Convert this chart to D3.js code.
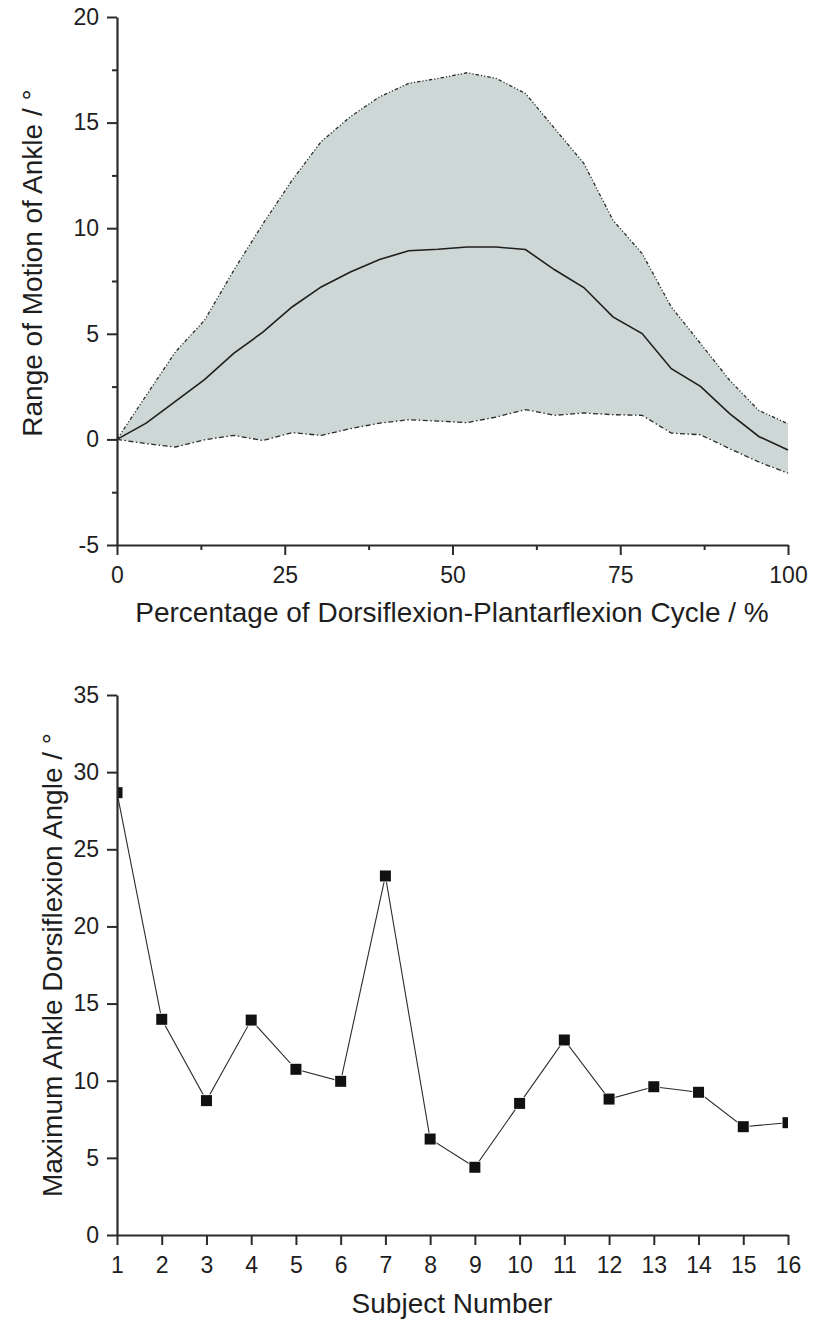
<!DOCTYPE html>
<html>
<head>
<meta charset="utf-8">
<script src="https://cdn.jsdelivr.net/npm/d3@7"></script>
<style>
  html, body { margin: 0; padding: 0; background: #fff; }
  svg { display: block; font-family: "Liberation Sans", Arial, sans-serif; }
</style>
</head>
<body>
<svg id="chart" width="820" height="1324"></svg>
<script>
// ---- Top chart data ----
const cyclePct = [0, 4.35, 8.7, 13.04, 17.39, 21.74, 26.09, 30.43, 34.78, 39.13, 43.48, 47.83,
                  52.17, 56.52, 60.87, 65.22, 69.57, 73.91, 78.26, 82.61, 86.96, 91.3, 95.65, 100];
const meanROM  = [0, 0.77, 1.8, 2.83, 4.07, 5.08, 6.27, 7.22, 7.93, 8.52, 8.93, 9.0,
                  9.11, 9.11, 8.99, 8.03, 7.19, 5.8, 5.01, 3.35, 2.51, 1.22, 0.14, -0.5];
const upperROM = [0, 2.08, 4.14, 5.64, 8.0, 10.2, 12.27, 14.1, 15.28, 16.22, 16.86, 17.09,
                  17.36, 17.09, 16.38, 14.72, 13.07, 10.38, 8.8, 6.27, 4.54, 2.8, 1.37, 0.74];
const lowerROM = [0, -0.2, -0.36, -0.02, 0.19, -0.05, 0.32, 0.19, 0.51, 0.77, 0.93, 0.87,
                  0.79, 1.06, 1.41, 1.14, 1.25, 1.17, 1.14, 0.3, 0.22, -0.44, -1.07, -1.6];
const topXTicks = [0, 25, 50, 75, 100];
const topYTicks = [-5, 0, 5, 10, 15, 20];
const topXMinor = [12.5, 37.5, 62.5, 87.5];
const topYMinor = [-2.5, 2.5, 7.5, 12.5, 17.5];
const topXTitle = "Percentage of Dorsiflexion-Plantarflexion Cycle / %";
const topYTitle = "Range of Motion of Ankle / °";

// ---- Bottom chart data ----
const subjects = [1, 2, 3, 4, 5, 6, 7, 8, 9, 10, 11, 12, 13, 14, 15, 16];
const maxDorsi = [28.67, 13.98, 8.71, 13.93, 10.74, 9.96, 23.27, 6.22, 4.39, 8.53, 12.64, 8.81, 9.61, 9.25, 7.02, 7.28];
const botYTicks = [0, 5, 10, 15, 20, 25, 30, 35];
const botXTitle = "Subject Number";
const botYTitle = "Maximum Ankle Dorsiflexion Angle / °";

const svg = d3.select("#chart");
const ink = "#1e1e1e";
const fmt = d => String(d);

function styleAxis(g) {
  g.select(".domain").attr("stroke", "#2a2a2a").attr("stroke-width", 2.2);
  g.selectAll(".tick line").attr("stroke", "#2a2a2a").attr("stroke-width", 2);
  g.selectAll(".tick text").attr("fill", ink).style("font-size", "23px")
    .style("font-family", '"Liberation Sans", Arial, sans-serif');
}

// ================= TOP CHART =================
const x1 = d3.scaleLinear().domain([0, 100]).range([117, 788]);
const y1 = d3.scaleLinear().domain([-5, 20]).range([545, 17]);
const topData = cyclePct.map((p, i) => ({p, m: meanROM[i], u: upperROM[i], l: lowerROM[i]}));

svg.append("path").datum(topData)
  .attr("fill", "#cdd8d6")
  .attr("d", d3.area().x(d => x1(d.p)).y0(d => y1(d.l)).y1(d => y1(d.u)));

svg.append("path").datum(topData)
  .attr("fill", "none").attr("stroke", "#2b2b2b").attr("stroke-width", 1.3)
  .attr("stroke-dasharray", "3.5,2,1.2,2,1.2,2")
  .attr("d", d3.line().x(d => x1(d.p)).y(d => y1(d.u)));

svg.append("path").datum(topData)
  .attr("fill", "none").attr("stroke", "#2b2b2b").attr("stroke-width", 1.3)
  .attr("stroke-dasharray", "5,2.5,1.5,2.5")
  .attr("d", d3.line().x(d => x1(d.p)).y(d => y1(d.l)));

svg.append("path").datum(topData)
  .attr("fill", "none").attr("stroke", "#1e1e1e").attr("stroke-width", 1.6)
  .attr("d", d3.line().x(d => x1(d.p)).y(d => y1(d.m)));

// minor ticks
svg.append("g").attr("transform", "translate(0,545)")
  .call(d3.axisBottom(x1).tickValues(topXMinor).tickSize(5).tickFormat(""))
  .call(g => { styleAxis(g); g.select(".domain").remove(); });
svg.append("g").attr("transform", "translate(117,0)")
  .call(d3.axisLeft(y1).tickValues(topYMinor).tickSize(5).tickFormat(""))
  .call(g => { styleAxis(g); g.select(".domain").remove(); });
// major axes
svg.append("g").attr("transform", "translate(0,545)")
  .call(d3.axisBottom(x1).tickValues(topXTicks).tickSize(10).tickSizeOuter(0).tickPadding(12).tickFormat(fmt))
  .call(styleAxis);
svg.append("g").attr("transform", "translate(117,0)")
  .call(d3.axisLeft(y1).tickValues(topYTicks).tickSize(10).tickSizeOuter(0).tickPadding(8).tickFormat(fmt))
  .call(styleAxis);

svg.append("text").attr("x", 452).attr("y", 622).attr("text-anchor", "middle")
  .attr("fill", ink).style("font-size", "28px").text(topXTitle);
svg.append("text").attr("transform", "translate(42,263) rotate(-90)").attr("text-anchor", "middle")
  .attr("fill", ink).style("font-size", "28px").text(topYTitle);

// ================= BOTTOM CHART =================
const x2 = d3.scaleLinear().domain([1, 16]).range([117, 788]);
const y2 = d3.scaleLinear().domain([0, 35]).range([1235, 695]);
const botData = subjects.map((s, i) => ({s, v: maxDorsi[i]}));

svg.append("defs").append("clipPath").attr("id", "botClip")
  .append("rect").attr("x", 117).attr("y", 680).attr("width", 671).attr("height", 555);

const plot2 = svg.append("g").attr("clip-path", "url(#botClip)");
plot2.append("path").datum(botData)
  .attr("fill", "none").attr("stroke", "#2b2b2b").attr("stroke-width", 1.1)
  .attr("d", d3.line().x(d => x2(d.s)).y(d => y2(d.v)));
plot2.selectAll("rect.mk").data(botData).enter().append("rect").attr("class", "mk")
  .attr("x", d => x2(d.s) - 5.5).attr("y", d => y2(d.v) - 5.5)
  .attr("width", 11).attr("height", 11)
  .attr("fill", "#111").attr("stroke", "#fff").attr("stroke-width", 1.5)
  .attr("paint-order", "stroke");

svg.append("g").attr("transform", "translate(0,1235)")
  .call(d3.axisBottom(x2).tickValues(subjects).tickSize(10).tickSizeOuter(0).tickPadding(12).tickFormat(fmt))
  .call(styleAxis);
svg.append("g").attr("transform", "translate(117,0)")
  .call(d3.axisLeft(y2).tickValues(botYTicks).tickSize(10).tickSizeOuter(0).tickPadding(8).tickFormat(fmt))
  .call(styleAxis);

svg.append("text").attr("x", 452).attr("y", 1313).attr("text-anchor", "middle")
  .attr("fill", ink).style("font-size", "28px").text(botXTitle);
svg.append("text").attr("transform", "translate(62,965) rotate(-90)").attr("text-anchor", "middle")
  .attr("fill", ink).style("font-size", "28px").text(botYTitle);
</script>
</body>
</html>
